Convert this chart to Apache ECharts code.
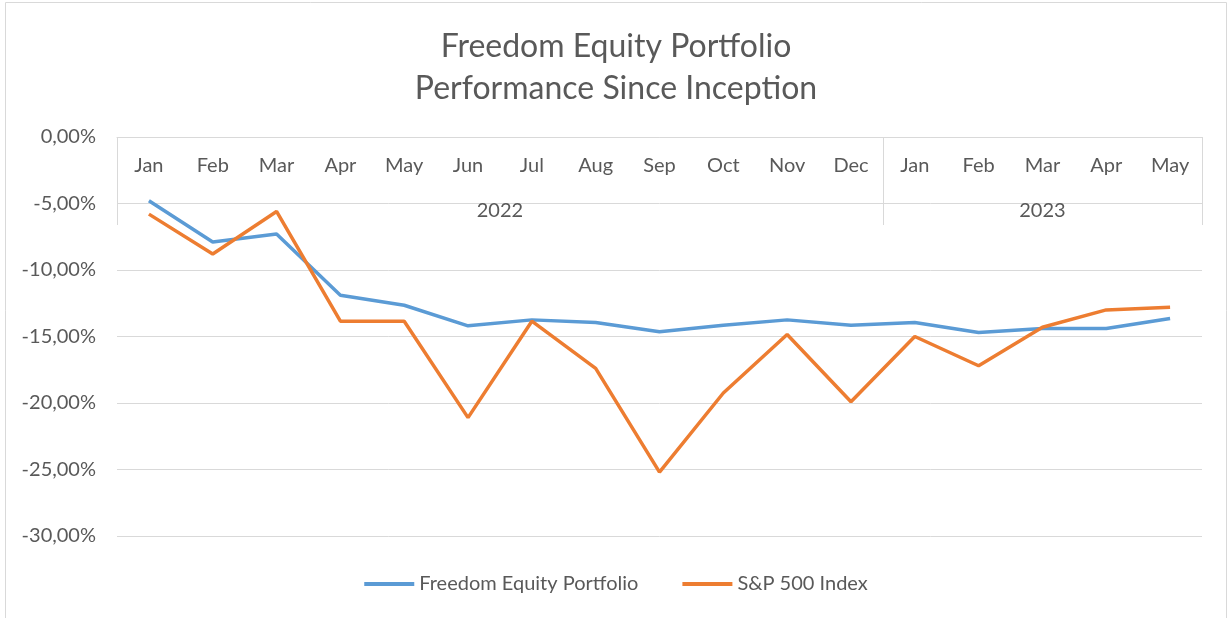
<!DOCTYPE html>
<html>
<head>
<meta charset="utf-8">
<title>Freedom Equity Portfolio</title>
<script src="https://cdn.jsdelivr.net/npm/echarts@6.0.0/dist/echarts.min.js"></script>
<style>
  html, body { margin: 0; padding: 0; background: #fff; }
  #main { width: 1232px; height: 618px; }
</style>
</head>
<body>
<div id="main"></div>
<script>
var months = ['Jan','Feb','Mar','Apr','May','Jun','Jul','Aug','Sep','Oct','Nov','Dec','Jan','Feb','Mar','Apr','May'];
var years = ['2022','2022','2022','2022','2022','2022','2022','2022','2022','2022','2022','2022','2023','2023','2023','2023','2023'];
var freedom = [-4.8, -7.9, -7.3, -11.9, -12.65, -14.2, -13.75, -13.95, -14.65, -14.15, -13.75, -14.15, -13.95, -14.7, -14.4, -14.4, -13.65];
var sp500 = [-5.8, -8.8, -5.6, -13.85, -13.85, -21.1, -13.85, -17.4, -25.2, -19.25, -14.85, -19.9, -15.0, -17.2, -14.3, -13.0, -12.8];
var yTicks = [0, -5, -10, -15, -20, -25, -30];

// year groups from the per-month year list
var groups = [];
years.forEach(function (y, i) {
    var last = groups[groups.length - 1];
    if (last && last.name === y) { last.end = i + 1; }
    else { groups.push({ name: y, start: i, end: i + 1 }); }
});
var groupCenters = groups.map(function (g) { return (g.start + g.end) / 2; });
var groupEdges = [0].concat(groups.map(function (g) { return g.end; }));

var textColor = '#595959';
var gridColor = '#d9d9d9';
var font = 'Lato, "Open Sans", sans-serif';
var labelSize = 20;

var chart = echarts.init(document.getElementById('main'));
var option = {
    animation: false,
    textStyle: { fontFamily: font, color: textColor },
    title: {
        text: 'Freedom Equity Portfolio\nPerformance Since Inception',
        left: 'center',
        top: 21,
        textStyle: { fontFamily: font, fontSize: 32, fontWeight: 'normal', color: textColor, lineHeight: 42 }
    },
    legend: {
        bottom: 19,
        left: 'center',
        icon: 'rect',
        itemWidth: 50,
        itemHeight: 4,
        itemGap: 44,
        textStyle: { fontFamily: font, fontSize: labelSize, color: textColor },
        data: ['Freedom Equity Portfolio', 'S&P 500 Index']
    },
    graphic: [{
        type: 'rect',
        shape: { x: 5.5, y: 2.5, width: 1221, height: 640 },
        style: { fill: 'none', stroke: gridColor, lineWidth: 1 },
        silent: true
    }],
    grid: { left: 117, right: 30, top: 137, bottom: 82, containLabel: false },
    xAxis: [{
        type: 'category',
        position: 'top',
        data: months,
        boundaryGap: true,
        axisLine: { show: true, lineStyle: { color: gridColor, width: 1 } },
        axisTick: { show: false },
        axisLabel: { inside: true, margin: 19, interval: 0, fontSize: labelSize, color: textColor, fontFamily: font },
        splitLine: { show: false }
    }, {
        type: 'value',
        position: 'top',
        min: 0,
        max: months.length,
        axisLine: { show: false },
        axisTick: { show: true, inside: true, length: 88, customValues: groupEdges, lineStyle: { color: gridColor, width: 1 } },
        axisLabel: {
            inside: true,
            margin: 64,
            fontSize: labelSize,
            color: textColor,
            fontFamily: font,
            customValues: groupCenters,
            formatter: function (v) {
                var i = groupCenters.indexOf(v);
                return i >= 0 ? groups[i].name : '';
            }
        },
        splitLine: { show: false }
    }],
    yAxis: {
        type: 'value',
        min: yTicks[yTicks.length - 1],
        max: yTicks[0],
        interval: 5,
        axisLine: { show: false },
        axisTick: { show: false },
        axisLabel: {
            margin: 21,
            fontSize: labelSize,
            color: textColor,
            fontFamily: font,
            formatter: function (v) { return v.toFixed(2).replace('.', ',') + '%'; }
        },
        splitLine: { show: true, lineStyle: { color: gridColor, width: 1 } }
    },
    series: [{
        name: 'Freedom Equity Portfolio',
        type: 'line',
        xAxisIndex: 0,
        data: freedom,
        symbol: 'none',
        lineStyle: { color: '#5b9bd5', width: 3.5 },
        itemStyle: { color: '#5b9bd5' }
    }, {
        name: 'S&P 500 Index',
        type: 'line',
        xAxisIndex: 0,
        data: sp500,
        symbol: 'none',
        lineStyle: { color: '#ed7d31', width: 3.5 },
        itemStyle: { color: '#ed7d31' }
    }]
};
chart.setOption(option);
</script>
</body>
</html>
